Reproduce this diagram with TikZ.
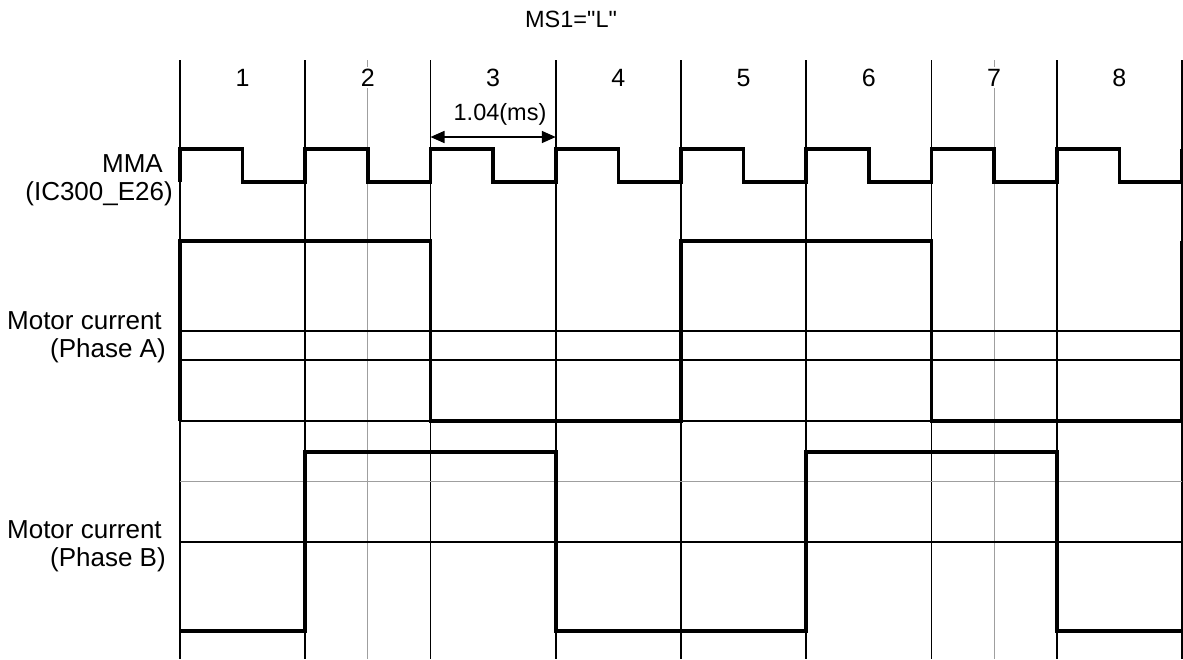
\documentclass[tikz,border=0pt]{standalone}
\usepackage{fontspec}
\setmainfont{Liberation Sans}
\usetikzlibrary{arrows.meta}

\begin{document}
\begin{tikzpicture}[
  x=125.25pt, y=-1pt, shift={(180pt,0pt)},
  lbl/.style={font=\fontsize{26}{30}\selectfont,anchor=base east,inner sep=0pt},
  num/.style={font=\fontsize{25}{28}\selectfont,anchor=base,fill=white,inner sep=2pt},
  ttl/.style={font=\fontsize{23.5}{28}\selectfont,anchor=base,inner sep=0pt},
  bound/.style={line width=1.7pt},
  gridln/.style={line width=1.2pt},
  mid/.style={line width=1pt,gray!75},
  sig/.style={line width=3.7pt},
  >={Triangle[length=14pt,width=12pt]}
]
  \useasboundingbox (-1.4371,0) rectangle (8.008,659);
  % time grid
  \foreach \i in {0,...,8} \draw[bound] (\i,60) -- (\i,659);
  \draw[mid] (1.5,60) -- (1.5,659);
  \draw[mid] (6.5,60) -- (6.5,659);
  \foreach \y in {331,360,421,542} \draw[gridln] (0,\y) -- (8,\y);
  \draw[mid] (0,481) -- (8,481);
  % period numbers
  \foreach \i in {1,...,8} \node[num] (n\i) at (\i-0.5,86) {\i};
  \node[ttl] (title) at (3.122,27) {MS1=\textquotedbl L\textquotedbl};
  % period width
  \coordinate (p3) at (2,137);
  \coordinate (p4) at (3,137);
  \draw[<->,line width=1.7pt] (p3) -- (p4);
  \node[ttl] (dim) at (2.555,120) {1.04(ms)};
  % signals
  \draw[sig] (0,182) foreach \i in {0,...,7} { |- (\i+0.5,149) |- (\i+1,182) } -- (8,149);
  \draw[sig] (0,421) -- (0,241) -- (2,241) -- (2,421) -- (4,421) -- (4,241)
    -- (6,241) -- (6,421) -- (8,421) -- (8,241);
  \draw[sig] (0,631) -- (1,631) -- (1,452) -- (3,452) -- (3,631) -- (5,631)
    -- (5,452) -- (7,452) -- (7,631) -- (8,631);
  % signal names
  \node[lbl] (mma)  at (-0.136,172) {MMA};
  \node[lbl] (mmb)  at (-0.056,200) {(IC300\_E26)};
  \node[lbl] (ia)   at (-0.144,329) {Motor current};
  \node[lbl] (iab)  at (-0.112,357) {(Phase A)};
  \node[lbl] (ib)   at (-0.144,538) {Motor current};
  \node[lbl] (ibb)  at (-0.112,566) {(Phase B)};
\end{tikzpicture}
\end{document}
